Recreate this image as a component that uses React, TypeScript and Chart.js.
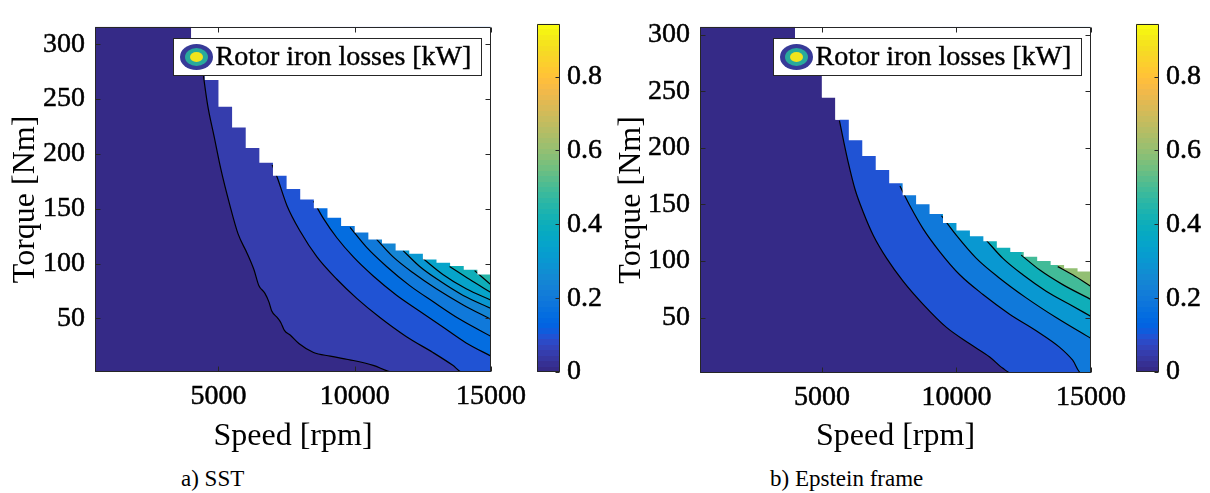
import React, { useEffect, useRef } from 'react';
import { Chart, registerables } from 'chart.js';

Chart.register(...registerables);

const FONT = "'Liberation Serif', 'Times New Roman', Times, serif";

// ---------- axes ----------
const SPEED_MIN = 470;
const SPEED_MAX = 15000;
const SPEED_TICKS = [5000, 10000, 15000];
const TORQUE_MIN = 1;
const TORQUE_MAX_SST = 316;
const TORQUE_MAX_EPSTEIN = 307;
const TORQUE_TICKS = [50, 100, 150, 200, 250, 300];
const CLIM_MAX = 0.943;
const COLORBAR_TICKS = [0, 0.2, 0.4, 0.6, 0.8];
const LEGEND_TEXT = 'Rotor iron losses [kW]';
const X_TITLE = 'Speed [rpm]';
const Y_TITLE = 'Torque [Nm]';

// ---------- max-torque envelope (start speed of each 500 rpm band) ----------
const ENV_SPEED = [470, 4000, 4500, 5000, 5500, 6000, 6500, 7000, 7500, 8000, 8500, 9000, 9500, 10000, 10500, 11000, 11500, 12000, 12500, 13000, 13500, 14000, 14500, 15000];
const ENV_TORQUE_SST = [330, 290, 267.5, 243, 224, 205.5, 192, 180, 168, 158.4, 150.5, 141.8, 134.2, 128.4, 122, 118.2, 111.8, 108.9, 103.7, 100.8, 97.8, 94.3, 90, 88];
const ENV_TORQUE_EPSTEIN = [330, 290, 275, 244.6, 224.8, 206.8, 192.9, 180.5, 168.8, 158, 150.2, 141.5, 133.6, 127, 121.8, 117.4, 111.6, 108, 103.7, 100, 96.5, 93.6, 90.7, 88];

// ---------- a) SST contour levels [kW] and iso-lines [speed, torque] ----------
const SST_LEVELS = [0.05, 0.1, 0.15, 0.2, 0.25, 0.3, 0.35, 0.4, 0.45];
const SST_C005 = [[4350, 290], [4600, 245], [4840, 216], [5080, 187], [5420, 153], [5720, 127], [6058, 109], [6300, 94.5], [6480, 80], [6700, 73], [6850, 65], [6950, 57], [7180, 50], [7290, 46], [7420, 39], [7640, 34.5], [7950, 27], [8489, 18.8], [9100, 15.5], [9949, 11.5], [10679, 7.1], [11400, 1]];
const SST_C010 = [[6971, 190], [7154, 178.7], [7519, 152.5], [8004, 129.2], [8614, 106], [9344, 85.6], [10074, 68.2], [10924, 50.7], [11899, 33.2], [12869, 18.8], [13599, 7.1], [13930, 1]];
const SST_C015 = [[8489, 156.9], [8855, 140.9], [9344, 123.5], [9949, 106], [10679, 88.6], [11534, 71.1], [12384, 56.5], [13234, 42], [14089, 27.5], [15000, 15.5]];
const SST_C020 = [[9829, 133], [10438, 114.7], [11168, 97.3], [12019, 79.8], [12869, 65.3], [13844, 49.3], [15000, 33.5]];
const SST_C025 = [[10803, 122], [11409, 106], [12139, 91.5], [12993, 76.9], [13964, 62.4], [15000, 49]];
const SST_C030 = [[11774, 111.8], [12384, 97.3], [13114, 84.2], [13964, 71.1], [15000, 59]];
const SST_C035 = [[12504, 104.5], [13234, 90], [14089, 76.9], [15000, 66.5]];
const SST_C040 = [[13479, 97.3], [14209, 85.6], [15000, 73.5]];
const SST_C045 = [[14400, 93.5], [14700, 87], [15000, 80.5]];
const SST_CONTOURS = [SST_C005, SST_C010, SST_C015, SST_C020, SST_C025, SST_C030, SST_C035, SST_C040, SST_C045];

// ---------- b) Epstein frame contour levels [kW] and iso-lines ----------
const EPSTEIN_LEVELS = [0.1, 0.2, 0.3, 0.4, 0.5, 0.6];
const EPSTEIN_C01 = [[5652, 224], [5800, 206.8], [5985, 186.5], [6233, 163.2], [6541, 142.9], [6911, 122.6], [7408, 102.3], [8022, 82], [8763, 61.7], [9630, 41.3], [10493, 26.8], [11234, 15.2], [11727, 5.1], [12038, 1]];
const EPSTEIN_C02 = [[7900, 166.2], [8271, 148.8], [8763, 128.4], [9382, 108.1], [10122, 87.8], [10986, 70.4], [11975, 53], [12963, 38.4], [13827, 23.9], [14319, 12.3], [14630, 1]];
const EPSTEIN_C03 = [[9445, 140], [10000, 122.6], [10741, 102.3], [11604, 84.8], [12593, 67.4], [13704, 50], [15000, 31.5]];
const EPSTEIN_C04 = [[11112, 118.3], [11727, 102.3], [12467, 87.8], [13334, 73.3], [14197, 61.7], [15000, 51]];
const EPSTEIN_C05 = [[12408, 105.2], [13086, 92.2], [13949, 79.1], [15000, 66]];
const EPSTEIN_C06 = [[13764, 95], [14319, 87.8], [15000, 77.5]];
const EPSTEIN_CONTOURS = [EPSTEIN_C01, EPSTEIN_C02, EPSTEIN_C03, EPSTEIN_C04, EPSTEIN_C05, EPSTEIN_C06];

// ---------- parula colormap (64 entries) ----------
const PARULA = [
  [0.2081, 0.1663, 0.5292], [0.2116, 0.1898, 0.5777], [0.2123, 0.2138, 0.6270], [0.2081, 0.2386, 0.6771],
  [0.1959, 0.2645, 0.7279], [0.1707, 0.2919, 0.7792], [0.1253, 0.3242, 0.8303], [0.0591, 0.3598, 0.8683],
  [0.0117, 0.3875, 0.8820], [0.0060, 0.4086, 0.8828], [0.0165, 0.4266, 0.8786], [0.0329, 0.4430, 0.8720],
  [0.0498, 0.4586, 0.8641], [0.0629, 0.4737, 0.8554], [0.0723, 0.4887, 0.8467], [0.0779, 0.5040, 0.8384],
  [0.0793, 0.5200, 0.8312], [0.0749, 0.5375, 0.8263], [0.0641, 0.5570, 0.8240], [0.0488, 0.5772, 0.8228],
  [0.0343, 0.5966, 0.8199], [0.0265, 0.6137, 0.8135], [0.0239, 0.6287, 0.8038], [0.0231, 0.6418, 0.7913],
  [0.0228, 0.6535, 0.7768], [0.0267, 0.6642, 0.7607], [0.0384, 0.6743, 0.7436], [0.0590, 0.6838, 0.7254],
  [0.0843, 0.6928, 0.7062], [0.1133, 0.7015, 0.6859], [0.1453, 0.7098, 0.6646], [0.1801, 0.7177, 0.6424],
  [0.2178, 0.7250, 0.6193], [0.2586, 0.7317, 0.5954], [0.3022, 0.7376, 0.5712], [0.3482, 0.7424, 0.5473],
  [0.3953, 0.7459, 0.5244], [0.4420, 0.7481, 0.5033], [0.4871, 0.7491, 0.4840], [0.5300, 0.7491, 0.4661],
  [0.5709, 0.7485, 0.4494], [0.6099, 0.7473, 0.4337], [0.6473, 0.7456, 0.4188], [0.6834, 0.7435, 0.4044],
  [0.7184, 0.7411, 0.3905], [0.7525, 0.7384, 0.3768], [0.7858, 0.7356, 0.3633], [0.8185, 0.7327, 0.3498],
  [0.8507, 0.7299, 0.3360], [0.8824, 0.7274, 0.3217], [0.9139, 0.7258, 0.3063], [0.9450, 0.7261, 0.2886],
  [0.9739, 0.7314, 0.2666], [0.9938, 0.7455, 0.2403], [0.9990, 0.7653, 0.2164], [0.9955, 0.7861, 0.1967],
  [0.9880, 0.8066, 0.1794], [0.9789, 0.8271, 0.1633], [0.9697, 0.8481, 0.1475], [0.9626, 0.8705, 0.1309],
  [0.9589, 0.8949, 0.1132], [0.9598, 0.9218, 0.0948], [0.9661, 0.9514, 0.0755], [0.9763, 0.9831, 0.0538],
];

const rgbCss = (c: number[]) => `rgb(${Math.round(c[0] * 255)},${Math.round(c[1] * 255)},${Math.round(c[2] * 255)})`;
const levelColor = (v: number) => {
  const idx = Math.max(0, Math.min(PARULA.length - 1, Math.floor((v / CLIM_MAX) * PARULA.length)));
  return rgbCss(PARULA[idx]);
};

const AXIS_COLOR = '#262626';
const TEXT_STROKE = 0.5;

// ---------- plugins ----------
const frameTicksPlugin = {
  id: 'frameTicks',
  afterDatasetsDraw(chart: any) {
    const { ctx, chartArea: a, scales } = chart;
    const L = Math.round(a.left) + 0.5;
    const R = Math.round(a.right) - 0.5;
    const T = Math.round(a.top) + 0.5;
    const B = Math.round(a.bottom) - 0.5;
    ctx.save();
    ctx.strokeStyle = AXIS_COLOR;
    ctx.lineWidth = 1;
    ctx.beginPath();
    for (const t of scales.x.ticks) {
      const px = Math.round(scales.x.getPixelForValue(t.value)) + 0.5;
      ctx.moveTo(px, B); ctx.lineTo(px, B - 5);
      ctx.moveTo(px, T); ctx.lineTo(px, T + 5);
    }
    for (const t of scales.y.ticks) {
      const py = Math.round(scales.y.getPixelForValue(t.value)) + 0.5;
      ctx.moveTo(L, py); ctx.lineTo(L + 5, py);
      ctx.moveTo(R, py); ctx.lineTo(R - 5, py);
    }
    ctx.rect(L, T, R - L, B - T);
    ctx.stroke();
    ctx.restore();
  },
};

const contourLegendPlugin = {
  id: 'contourLegend',
  afterDatasetsDraw(chart: any, _args: any, opts: any) {
    if (!opts || !opts.text) return;
    const { ctx, chartArea: a } = chart;
    const w = 308;
    const h = 37;
    const x = Math.round(a.right - 10 - w) + 0.5;
    const y = Math.round(a.top + 11) + 0.5;
    ctx.save();
    ctx.fillStyle = '#ffffff';
    ctx.fillRect(x, y, w, h);
    ctx.strokeStyle = AXIS_COLOR;
    ctx.lineWidth = 1;
    ctx.strokeRect(x, y, w, h);
    const cx = x + 23;
    const cy = y + h / 2;
    const rings = [
      { rx: 16.5, ry: 13, c: '#373a98' },
      { rx: 11.5, ry: 9, c: '#29aa9c' },
      { rx: 6.5, ry: 5, c: '#f4e41d' },
    ];
    for (const r of rings) {
      ctx.beginPath();
      ctx.ellipse(cx, cy, r.rx, r.ry, 0, 0, Math.PI * 2);
      ctx.fillStyle = r.c;
      ctx.fill();
    }
    ctx.fillStyle = '#000000';
    ctx.strokeStyle = '#000000';
    ctx.lineWidth = 0.4;
    ctx.font = `28px ${FONT}`;
    ctx.textBaseline = 'middle';
    ctx.textAlign = 'left';
    ctx.fillText(opts.text, x + 42, cy + 1);
    ctx.strokeText(opts.text, x + 42, cy + 1);
    ctx.restore();
  },
};

const colorbarFramePlugin = {
  id: 'colorbarFrame',
  afterDatasetsDraw(chart: any) {
    const { ctx, chartArea: a, scales } = chart;
    const L = Math.round(a.left) + 0.5;
    const R = Math.round(a.right) - 0.5;
    const T = Math.round(a.top) + 0.5;
    const B = Math.round(a.bottom) - 0.5;
    ctx.save();
    ctx.strokeStyle = AXIS_COLOR;
    ctx.lineWidth = 1;
    ctx.beginPath();
    ctx.rect(L, T, R - L, B - T);
    for (const t of scales.y.ticks) {
      const py = Math.round(scales.y.getPixelForValue(t.value)) + 0.5;
      ctx.moveTo(R, py); ctx.lineTo(R - 4, py);
    }
    ctx.stroke();
    ctx.restore();
  },
};

// ---------- panels ----------
type PanelCfg = {
  left: number;
  width: number;
  height: number;
  padTop: number;
  padRight: number;
  yAxisWidth: number;
  xAxisHeight: number;
  yTitlePad: number;
  yMax: number;
  envTorque: number[];
  levels: number[];
  contours: number[][][];
};

const SST_PANEL: PanelCfg = {
  left: 0, width: 540, height: 460, padTop: 13, padRight: 49, yAxisWidth: 95, xAxisHeight: 88, yTitlePad: 6,
  yMax: TORQUE_MAX_SST, envTorque: ENV_TORQUE_SST, levels: SST_LEVELS, contours: SST_CONTOURS,
};
const EPSTEIN_PANEL: PanelCfg = {
  left: 600, width: 540, height: 460, padTop: 19, padRight: 49, yAxisWidth: 100, xAxisHeight: 87, yTitlePad: 12,
  yMax: TORQUE_MAX_EPSTEIN, envTorque: ENV_TORQUE_EPSTEIN, levels: EPSTEIN_LEVELS, contours: EPSTEIN_CONTOURS,
};

function ContourPanel({ cfg }: { cfg: PanelCfg }) {
  const ref = useRef<HTMLCanvasElement | null>(null);
  useEffect(() => {
    if (!ref.current) return;
    const env = ENV_SPEED.map((x, i) => ({ x, y: cfg.envTorque[i] }));
    const datasets: any[] = [];
    datasets.push({
      data: env, stepped: true, fill: 'start', backgroundColor: levelColor(0),
      borderWidth: 0, borderColor: 'transparent', pointRadius: 0, order: 100,
    });
    cfg.contours.forEach((c, k) => {
      const pts = c.map(([x, y]) => ({ x, y }));
      if (c[c.length - 1][0] < SPEED_MAX) pts.push({ x: SPEED_MAX, y: TORQUE_MIN });
      datasets.push({
        data: pts, fill: 'end', backgroundColor: levelColor(cfg.levels[k]),
        borderColor: '#000000', borderWidth: 1.2, pointRadius: 0,
        cubicInterpolationMode: 'monotone', order: 50 - k,
      });
    });
    datasets.push({
      data: env, stepped: true, fill: 'end', backgroundColor: '#ffffff',
      borderWidth: 0, borderColor: 'transparent', pointRadius: 0, order: 2,
    });

    const tickFont = { family: FONT, size: 28 };
    const titleFont = { family: FONT, size: 32 };
    const chart = new Chart(ref.current, {
      type: 'line',
      data: { datasets },
      plugins: [frameTicksPlugin, contourLegendPlugin],
      options: {
        animation: false,
        responsive: false,
        events: [],
        layout: { padding: { top: cfg.padTop, right: cfg.padRight, left: 0, bottom: 0 } },
        plugins: {
          legend: { display: false },
          tooltip: { enabled: false },
          contourLegend: { text: LEGEND_TEXT },
        } as any,
        scales: {
          x: {
            type: 'linear', min: SPEED_MIN, max: SPEED_MAX,
            afterBuildTicks: (s: any) => { s.ticks = SPEED_TICKS.map((v) => ({ value: v })); },
            afterFit: (s: any) => { s.height = cfg.xAxisHeight; },
            grid: { display: false, drawTicks: false },
            border: { display: false },
            ticks: {
              font: tickFont, color: '#000', padding: 8, maxRotation: 0, autoSkip: false,
              textStrokeColor: '#000', textStrokeWidth: TEXT_STROKE, callback: (v: any) => String(v),
            },
            title: { display: true, text: X_TITLE, font: titleFont, color: '#000', padding: { top: 0, bottom: 4 } },
          },
          y: {
            type: 'linear', min: TORQUE_MIN, max: cfg.yMax,
            afterBuildTicks: (s: any) => { s.ticks = TORQUE_TICKS.map((v) => ({ value: v })); },
            afterFit: (s: any) => { s.width = cfg.yAxisWidth; },
            grid: { display: false, drawTicks: false },
            border: { display: false },
            ticks: {
              font: tickFont, color: '#000', padding: 10, autoSkip: false,
              textStrokeColor: '#000', textStrokeWidth: TEXT_STROKE, callback: (v: any) => String(v),
            },
            title: { display: true, text: Y_TITLE, font: titleFont, color: '#000', padding: { top: cfg.yTitlePad, bottom: 0 } },
          },
        },
      } as any,
    });
    return () => chart.destroy();
  }, [cfg]);
  return (
    <canvas
      ref={ref}
      width={cfg.width}
      height={cfg.height}
      style={{ position: 'absolute', left: cfg.left, top: 0, width: cfg.width, height: cfg.height }}
    />
  );
}

type BarCfg = { left: number; width: number; height: number; padLeft: number; padTop: number; padBottom: number; barWidth: number };
const SST_BAR: BarCfg = { left: 530, width: 90, height: 460, padLeft: 7, padTop: 13, padBottom: 88, barWidth: 23 };
const EPSTEIN_BAR: BarCfg = { left: 1130, width: 80, height: 460, padLeft: 6, padTop: 19, padBottom: 88, barWidth: 23 };

function ColorBar({ cfg }: { cfg: BarCfg }) {
  const ref = useRef<HTMLCanvasElement | null>(null);
  useEffect(() => {
    if (!ref.current) return;
    const chart = new Chart(ref.current, {
      type: 'bar',
      data: {
        labels: [''],
        datasets: [{
          data: [CLIM_MAX],
          barPercentage: 1,
          categoryPercentage: 1,
          borderWidth: 0,
          backgroundColor: (c: any) => {
            const a = c.chart.chartArea;
            if (!a) return levelColor(0);
            const g = c.chart.ctx.createLinearGradient(0, a.bottom, 0, a.top);
            PARULA.forEach((col, i) => {
              g.addColorStop(i / PARULA.length, rgbCss(col));
              g.addColorStop((i + 1) / PARULA.length, rgbCss(col));
            });
            return g;
          },
        }],
      },
      plugins: [colorbarFramePlugin],
      options: {
        animation: false,
        responsive: false,
        events: [],
        layout: { padding: { top: cfg.padTop, bottom: cfg.padBottom, left: cfg.padLeft, right: 0 } },
        plugins: { legend: { display: false }, tooltip: { enabled: false } },
        scales: {
          x: { display: false },
          y: {
            position: 'right', min: 0, max: CLIM_MAX,
            afterBuildTicks: (s: any) => { s.ticks = COLORBAR_TICKS.map((v) => ({ value: v })); },
            afterFit: (s: any) => { s.width = cfg.width - cfg.padLeft - cfg.barWidth; },
            grid: { display: false, drawTicks: false },
            border: { display: false },
            ticks: {
              font: { family: FONT, size: 28 }, color: '#000', padding: 7, autoSkip: false,
              textStrokeColor: '#000', textStrokeWidth: TEXT_STROKE, callback: (v: any) => String(v),
            },
          },
        },
      } as any,
    });
    return () => chart.destroy();
  }, [cfg]);
  return (
    <canvas
      ref={ref}
      width={cfg.width}
      height={cfg.height}
      style={{ position: 'absolute', left: cfg.left, top: 0, width: cfg.width, height: cfg.height }}
    />
  );
}

const CAPTIONS = [
  { text: 'a) SST', left: 181 },
  { text: 'b) Epstein frame', left: 770 },
];

export default function App() {
  return (
    <div style={{ position: 'absolute', left: 0, top: 0, width: 1210, height: 493, background: '#ffffff', overflow: 'hidden' }}>
      <ContourPanel cfg={SST_PANEL} />
      <ColorBar cfg={SST_BAR} />
      <ContourPanel cfg={EPSTEIN_PANEL} />
      <ColorBar cfg={EPSTEIN_BAR} />
      {CAPTIONS.map((c) => (
        <div
          key={c.text}
          style={{ position: 'absolute', left: c.left, top: 467, fontFamily: FONT, fontSize: 23, lineHeight: '24px', color: '#000', whiteSpace: 'nowrap' }}
        >
          {c.text}
        </div>
      ))}
    </div>
  );
}
